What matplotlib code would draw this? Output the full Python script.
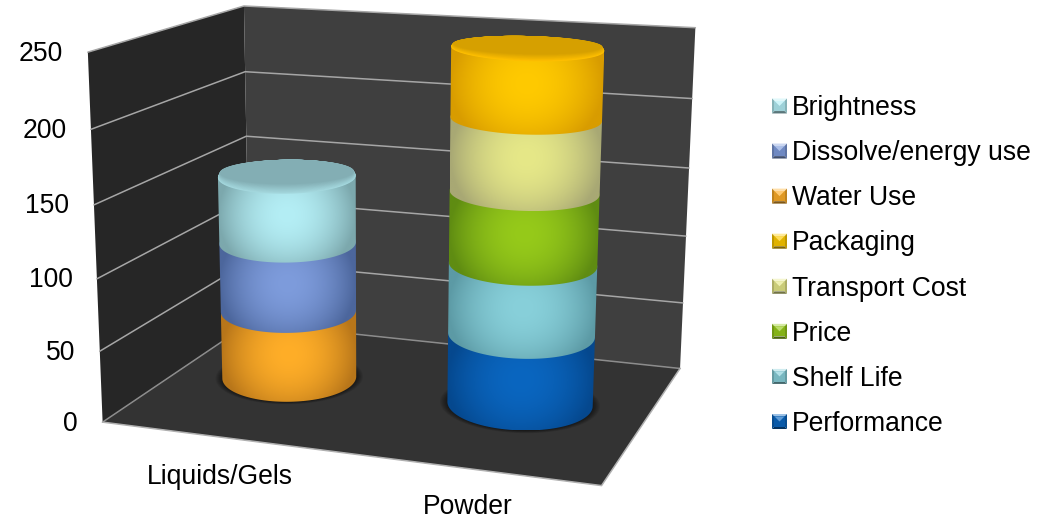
import numpy as np
import matplotlib
matplotlib.use("Agg")
import matplotlib.pyplot as plt
from matplotlib.colors import to_rgb
from matplotlib.legend_handler import HandlerBase
from matplotlib.patches import Patch, Polygon

plt.rcParams["font.family"] = ["Liberation Sans", "DejaVu Sans"]

# Chart data
categories = ["Liquids/Gels", "Powder"]
series_names = ["Performance", "Shelf Life", "Price", "Transport Cost", "Packaging",
                "Water Use", "Dissolve/energy use", "Brightness"]
liquids_values = [0, 0, 0, 0, 0, 50, 50, 48]
powder_values = [50, 50, 50, 50, 47, 0, 0, 0]
y_ticks = [0, 50, 100, 150, 200, 250]

# Series styling: highlight colour, edge colour
series_light = ["#0a66c0", "#88d0da", "#96ca1a", "#e6e888", "#ffca00",
                "#ffae28", "#7e9cdc", "#b4eef5"]
series_dark = ["#05488e", "#5c9aa5", "#5f8c12", "#a8a874", "#d89c00",
               "#b8761a", "#4c669c", "#7ca8ad"]
cap_colors = {"Liquids/Gels": ("#a4d8de", "#83aeb4"), "Powder": ("#ffc000", "#d6a000")}

WIDTH, HEIGHT = 1048, 518
FONT_PT = 26.5 * 72 / 100

# Perspective camera: box corners (x, depth, value) and where they land on the canvas
box_corners = np.array([(0, 0, 0), (1, 0, 0), (1, 1, 0), (0, 1, 0),
                        (0, 0, 250), (0, 1, 250), (1, 1, 250)], float)
canvas_corners = np.array([(103, 420), (602, 487), (680, 367), (249, 325),
                           (87, 53), (245, 5), (695, 28)], float)


def fit_camera(world, image):
    rows = []
    for (x, y, z), (u, v) in zip(world, image):
        rows.append([x, y, z, 1, 0, 0, 0, 0, -u * x, -u * y, -u * z, -u])
        rows.append([0, 0, 0, 0, x, y, z, 1, -v * x, -v * y, -v * z, -v])
    return np.linalg.svd(np.array(rows))[2][-1].reshape(3, 4)


CAMERA = fit_camera(box_corners, canvas_corners)


def project(x, y, z):
    x, y, z = np.broadcast_arrays(np.asarray(x, float), np.asarray(y, float), np.asarray(z, float))
    pts = np.stack([x, y, z, np.ones_like(x)], axis=-1) @ CAMERA.T
    return pts[..., 0] / pts[..., 2], pts[..., 1] / pts[..., 2]


def convex_hull(points):
    pts = sorted(map(tuple, points))

    def half(seq):
        out = []
        for p in seq:
            while len(out) > 1 and ((out[-1][0] - out[-2][0]) * (p[1] - out[-2][1])
                                    - (out[-1][1] - out[-2][1]) * (p[0] - out[-2][0])) <= 0:
                out.pop()
            out.append(p)
        return out[:-1]

    return np.array(half(pts) + half(pts[::-1]))


fig = plt.figure(figsize=(WIDTH / 100, HEIGHT / 100), dpi=100, facecolor="white")
ax = fig.add_axes([0, 0, 1, 1])
ax.axis("off")

# Walls and floor
GRID = "#a6a6a6"


def face(corners, color, z=1):
    xs, ys = project(*np.array(corners, float).T)
    ax.add_patch(Polygon(np.c_[xs, ys], closed=True, fc=color, ec="none", zorder=z))


face([(0, 0, 0), (0, 1, 0), (0, 1, 250), (0, 0, 250)], "#262626")
face([(0, 1, 0), (1, 1, 0), (1, 1, 250), (0, 1, 250)], "#3f3f3f")
face([(0, 0, 0), (1, 0, 0), (1, 1, 0), (0, 1, 0)], "#333333")

for v in y_ticks:
    xs, ys = project([0, 0, 1], [0, 1, 1], [v, v, v])
    ax.plot(xs, ys, color=GRID if v else "#8c8c8c", lw=1.1, zorder=2, solid_capstyle="round")
    px, py = project(0, 0, v)
    ax.text(px - 24.5, py + 1.5, str(v), ha="right", va="center", fontsize=FONT_PT, color="black")
xs, ys = project([0, 1, 1], [0, 0, 1], [0, 0, 0])
ax.plot(xs, ys, color="#b0b0b0", lw=1.1, zorder=2)

# Cylinder footprint on the floor; the rings stay close to level on screen
CENTERS = [0.238, 0.741]
TILTS = [-0.015, 0.03]
DEPTH = 0.53
RX, RY = 0.152, 0.24
theta = np.linspace(0, 2 * np.pi, 181)


def ring(i, z, sx=1.0, sy=1.0):
    xc = CENTERS[i]
    cx, cy = project(xc, DEPTH, z)
    wide = project([xc - sx * RX, xc + sx * RX], [DEPTH, DEPTH], [z, z])[0]
    deep = project([xc, xc], [DEPTH - sy * RY, DEPTH + sy * RY], [z, z])[1]
    a = abs(wide[1] - wide[0]) / 2
    b = abs(deep[1] - deep[0]) / 2
    return cx + a * np.cos(theta), cy + b * np.sin(theta) + TILTS[i] * a * np.cos(theta)


def shaded_segment(i, z0, z1, light, dark, zorder):
    bx, by = ring(i, z0)
    tx, ty = ring(i, z1)
    hull = convex_hull(np.c_[np.r_[bx, tx], np.r_[by, ty]])
    x0, x1 = hull[:, 0].min(), hull[:, 0].max()
    top, bottom = hull[:, 1].min(), hull[:, 1].max()
    gx, gy = np.meshgrid(np.linspace(x0, x1, 200), np.linspace(top, bottom, 200))
    # Side of the cylinder: bright near the upper middle, falling off to the rim
    u = (gx - (x0 + x1) / 2) / ((x1 - x0) / 2)
    front_top = ty.max()
    v = (gy - front_top) / max(by.max() - front_top, 1)
    d = np.clip(np.hypot(u, (v - 0.3) * 1.05), 0, 1)[..., None] ** 2
    rgb = np.array(to_rgb(light)) * (1 - d) + np.array(to_rgb(dark)) * d
    im = ax.imshow(rgb, extent=(x0, x1, bottom, top), aspect="auto", zorder=zorder,
                   interpolation="bilinear", origin="upper")
    im.set_clip_path(Polygon(hull, closed=True, transform=ax.transData))


for i, (name, values) in enumerate(zip(categories, (liquids_values, powder_values))):
    # Soft contact shadow
    for s in np.linspace(1.1, 1.0, 8):
        sx, sy = ring(i, 0, s, s)
        ax.add_patch(Polygon(np.c_[sx, sy], closed=True, fc="black", ec="none",
                             alpha=0.08, zorder=3))
    z = 0
    layer = 4
    for value, light, dark in zip(values, series_light, series_dark):
        if value == 0:
            continue
        shaded_segment(i, z, z + value, light, dark, layer)
        z += value
        layer += 1
    # Lid: lighter front lip fading into a darker face, sharing the back edge
    rim, lid = cap_colors[name]
    fx, fy = ring(i, z)
    back = fy.min()
    for s in np.linspace(1.0, 0.72, 12):
        mix = (1.0 - s) / 0.28
        col = np.array(to_rgb(rim)) * (1 - mix) + np.array(to_rgb(lid)) * mix
        yy = back + (fy - back) * s
        xx = fx.mean() + (fx - fx.mean()) * (1 - (1 - s) * 0.1)
        ax.add_patch(Polygon(np.c_[xx, yy], closed=True, fc=col, ec="none", zorder=layer))
        layer += 0.01
    lx, ly = project(0.25 + 0.5 * i, 0, 0)
    ax.text(lx - 9 + (10 - 2 * i), ly + 40 - i * 2, name, ha="center", va="center",
            fontsize=FONT_PT, color="black")


def shade(color, amount):
    c = np.array(to_rgb(color))
    return tuple(c + (1 - c) * amount) if amount > 0 else tuple(c * (1 + amount))


class BevelHandler(HandlerBase):
    """Small square key with a bevelled edge."""

    def create_artists(self, legend, orig, xd, yd, w, h, fontsize, trans):
        base = orig.get_facecolor()
        s = 15 * 0.72
        x0, y0 = -xd, -yd + (h - s) / 2
        b = s * 0.16
        mid = (x0 + s / 2, y0 + s / 2)
        cor = [(x0, y0), (x0 + s, y0), (x0 + s, y0 + s), (x0, y0 + s)]
        parts = [
            Polygon([cor[3], cor[2], (x0 + s - b, y0 + s - b), (x0 + b, y0 + s - b)], fc=shade(base, 0.6)),
            Polygon([cor[0], cor[1], (x0 + s - b, y0 + b), (x0 + b, y0 + b)], fc=shade(base, -0.5)),
            Polygon([cor[0], cor[3], (x0 + b, y0 + s - b), (x0 + b, y0 + b)], fc=shade(base, -0.25)),
            Polygon([cor[1], cor[2], (x0 + s - b, y0 + s - b), (x0 + s - b, y0 + b)], fc=shade(base, -0.25)),
            Polygon([(x0 + b, y0 + b), (x0 + s - b, y0 + b), (x0 + s - b, y0 + s - b), (x0 + b, y0 + s - b)],
                    fc=shade(base, -0.12)),
            Polygon([(x0 + b, y0 + s - b), (x0 + s - b, y0 + s - b), mid], fc=shade(base, 0.35)),
        ]
        for p in parts:
            p.set_transform(trans)
            p.set_edgecolor("none")
        return parts


handles = [Patch(facecolor=c, label=n) for n, c in zip(series_names, series_light)][::-1]
legend = ax.legend(handles=handles, loc="center left", bbox_to_anchor=(772, 266),
                   bbox_transform=ax.transData, frameon=False, fontsize=FONT_PT,
                   handler_map={Patch: BevelHandler()}, handlelength=0.57, handleheight=0.7,
                   handletextpad=0.17, labelspacing=0.72, borderpad=0, borderaxespad=0)

ax.set_xlim(0, WIDTH)
ax.set_ylim(HEIGHT, 0)
fig.savefig("out.png", dpi=100, facecolor="white")
